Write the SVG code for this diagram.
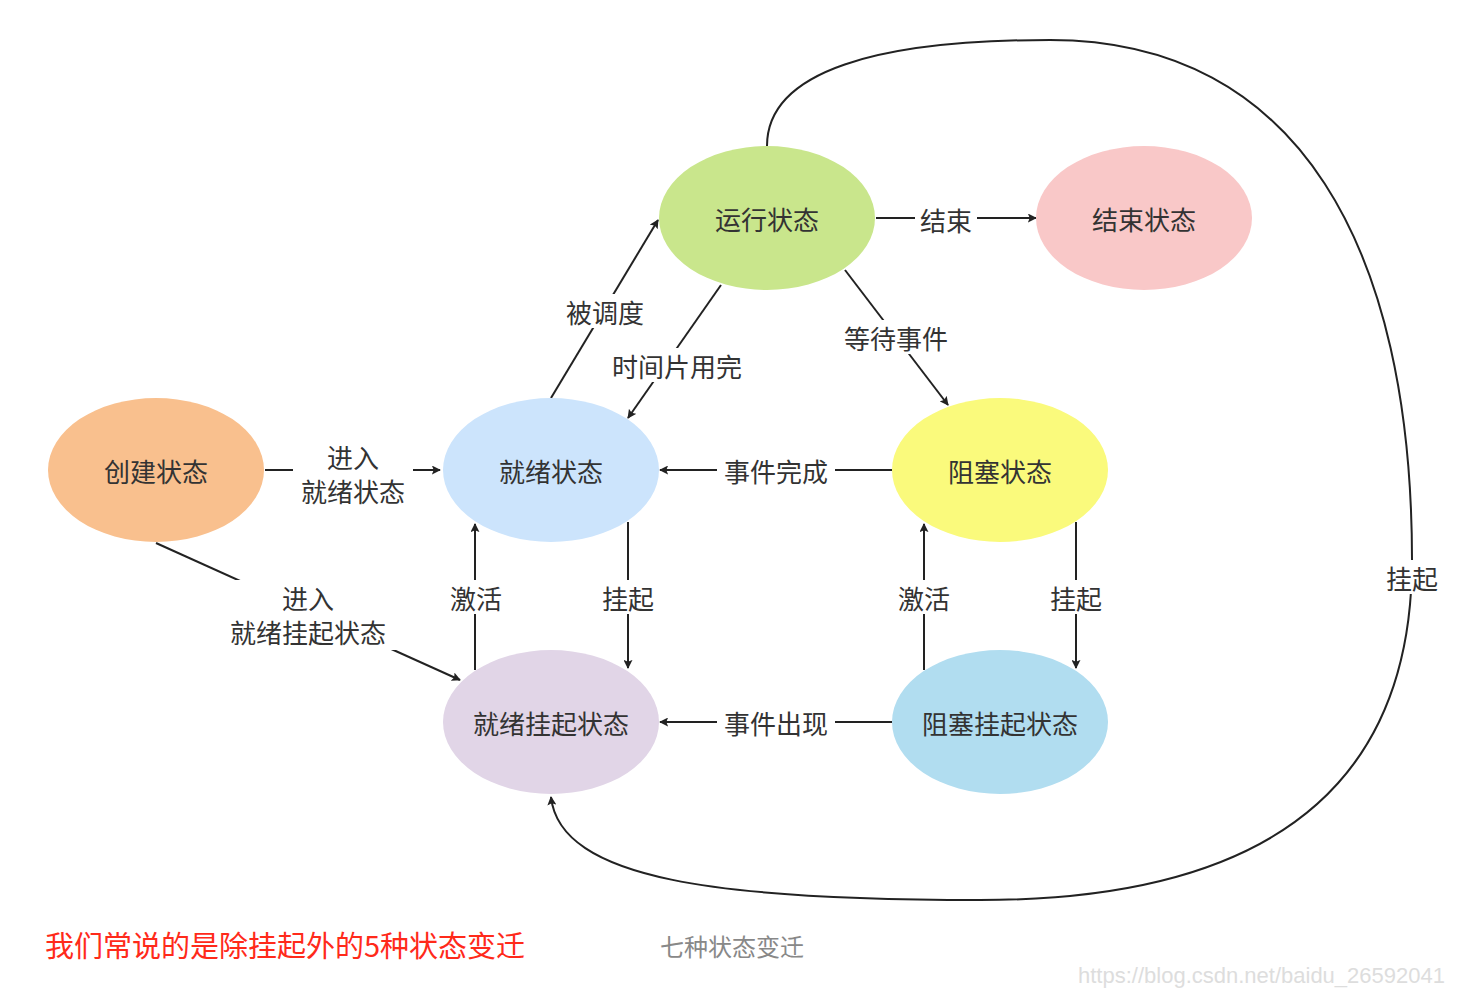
<svg xmlns="http://www.w3.org/2000/svg" width="1477" height="994" viewBox="0 0 1477 994">
<style>
text{font-family:"Noto Sans CJK SC","Noto Sans",sans-serif;fill:#333;font-size:26px;text-anchor:middle;dominant-baseline:central}
.n{stroke:none}
.c line,.c path{stroke:#222;stroke-width:2;fill:none}
.a{marker-end:url(#ah)}
.lb{fill:#fff}
</style>
<defs><marker id="ah" viewBox="0 0 10 10" refX="9" refY="5" markerWidth="9" markerHeight="9" orient="auto" markerUnits="userSpaceOnUse"><path d="M0,0L10,5L0,10L2,5z" fill="#222"/></marker></defs>
<rect width="1477" height="994" fill="#fff"/>
<g class="c">
<line class="a" x1="876" y1="218" x2="1036" y2="218"/>
<line class="a" x1="551" y1="398" x2="658" y2="220"/>
<line class="a" x1="721" y1="285" x2="628" y2="418"/>
<line class="a" x1="845" y1="270" x2="948" y2="405"/>
<line class="a" x1="265" y1="470" x2="440" y2="470"/>
<line class="a" x1="892" y1="470" x2="660" y2="470"/>
<line class="a" x1="475" y1="670" x2="475" y2="524"/>
<line class="a" x1="628" y1="522" x2="628" y2="668"/>
<line class="a" x1="924" y1="670" x2="924" y2="524"/>
<line class="a" x1="1076" y1="522" x2="1076" y2="668"/>
<line class="a" x1="892" y1="722" x2="660" y2="722"/>
<line class="a" x1="156" y1="543" x2="460" y2="680"/>
<path class="a" d="M767,146 C767,70 880,40 1050,40 C1300,40 1412,250 1412,560 C1412,800 1250,900 980,900 C720,900 560,880 551,797"/>
<rect class="lb" x="915" y="202" width="62" height="34"/>
<text x="946" y="219">结束</text>
<rect class="lb" x="560" y="294" width="90" height="34"/>
<text x="605" y="311">被调度</text>
<rect class="lb" x="603" y="348" width="148" height="34"/>
<text x="677" y="365">时间片用完</text>
<rect class="lb" x="836" y="320" width="120" height="34"/>
<text x="896" y="337">等待事件</text>
<rect class="lb" x="293" y="440" width="120" height="70"/>
<text x="353" y="456">进入</text><text x="353" y="490">就绪状态</text>
<rect class="lb" x="717" y="453" width="118" height="34"/>
<text x="776" y="470">事件完成</text>
<rect class="lb" x="446" y="580" width="60" height="34"/><text x="476" y="597">激活</text>
<rect class="lb" x="598" y="580" width="60" height="34"/><text x="628" y="597">挂起</text>
<rect class="lb" x="894" y="580" width="60" height="34"/><text x="924" y="597">激活</text>
<rect class="lb" x="1046" y="580" width="60" height="34"/><text x="1076" y="597">挂起</text>
<rect class="lb" x="717" y="705" width="118" height="34"/>
<text x="776" y="722">事件出现</text>
<rect class="lb" x="222" y="580" width="174" height="70"/>
<text x="308" y="597">进入</text><text x="308" y="631">就绪挂起状态</text>
<rect class="lb" x="1382" y="560" width="60" height="34"/><text x="1412" y="577">挂起</text>
</g>
<g id="running"><ellipse class="n" cx="767" cy="218" rx="108" ry="72" fill="#c9e68c"/><text x="767" y="218">运行状态</text></g>
<g id="end"><ellipse class="n" cx="1144" cy="218" rx="108" ry="72" fill="#f9c8c8"/><text x="1144" y="218">结束状态</text></g>
<g id="create"><ellipse class="n" cx="156" cy="470" rx="108" ry="72" fill="#f9c08e"/><text x="156" y="470">创建状态</text></g>
<g id="ready"><ellipse class="n" cx="551" cy="470" rx="108" ry="72" fill="#cce4fc"/><text x="551" y="470">就绪状态</text></g>
<g id="blocked"><ellipse class="n" cx="1000" cy="470" rx="108" ry="72" fill="#fafa7c"/><text x="1000" y="470">阻塞状态</text></g>
<g id="readySusp"><ellipse class="n" cx="551" cy="722" rx="108" ry="72" fill="#e1d5e7"/><text x="551" y="722">就绪挂起状态</text></g>
<g id="blockedSusp"><ellipse class="n" cx="1000" cy="722" rx="108" ry="72" fill="#b1ddf0"/><text x="1000" y="722">阻塞挂起状态</text></g>
<text x="45" y="944" style="text-anchor:start;fill:#ff2a1a;font-size:29px">我们常说的是除挂起外的5种状态变迁</text>
<text x="660" y="945" style="text-anchor:start;fill:#888;font-size:24px">七种状态变迁</text>
<text x="1078" y="975" style="text-anchor:start;fill:#ddd;font-size:22px;font-family:'Liberation Sans',sans-serif">https://blog.csdn.net/baidu_26592041</text>
</svg>
